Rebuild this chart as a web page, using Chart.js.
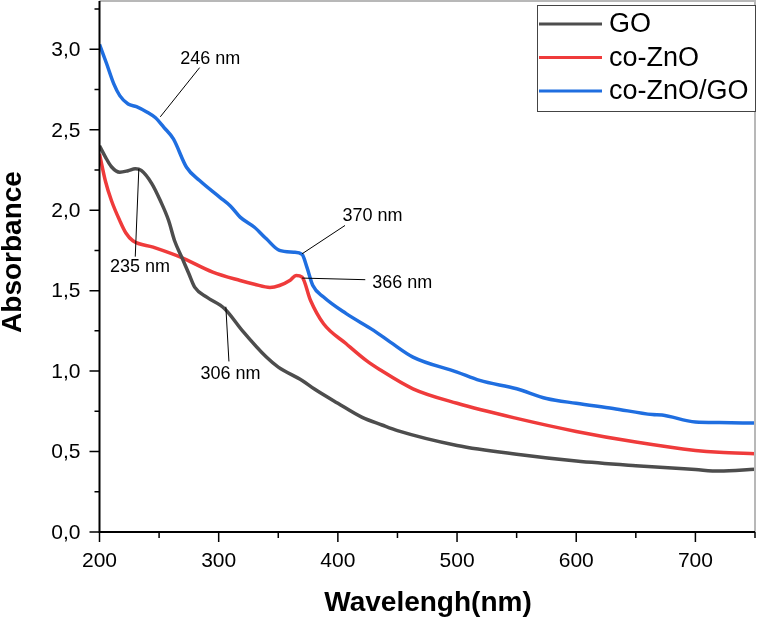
<!DOCTYPE html>
<html>
<head>
<meta charset="utf-8">
<script src="https://cdn.jsdelivr.net/npm/chart.js@4.4.0/dist/chart.umd.min.js"></script>
<style>
  html, body { margin: 0; padding: 0; background: #fff; }
  #wrap { width: 757px; height: 617px; }
</style>
</head>
<body>
<div id="wrap"><canvas id="uvChart"></canvas></div>
<script>
const goWl = [200, 205, 210, 217, 224, 230, 235, 244, 251, 258, 263, 269, 275, 280, 290, 305, 320, 340, 350, 370, 380, 400, 420, 437, 450, 500, 550, 600, 650, 700, 720, 750];
const goAbs = [2.40, 2.33, 2.27, 2.236, 2.245, 2.257, 2.247, 2.164, 2.06, 1.936, 1.81, 1.708, 1.605, 1.52, 1.46, 1.388, 1.25, 1.087, 1.025, 0.942, 0.89, 0.80, 0.714, 0.665, 0.63, 0.538, 0.483, 0.441, 0.412, 0.388, 0.379, 0.39];

const znoWl = [200, 205, 210, 217, 222, 228, 245, 268, 295, 318, 330, 343, 351, 360, 365, 370, 377, 388, 407, 424, 435, 463, 500, 550, 600, 650, 700, 720, 750];
const znoAbs = [2.35, 2.18, 2.06, 1.935, 1.86, 1.81, 1.77, 1.708, 1.615, 1.563, 1.54, 1.52, 1.532, 1.565, 1.594, 1.584, 1.44, 1.294, 1.17, 1.065, 1.01, 0.89, 0.80, 0.706, 0.625, 0.559, 0.507, 0.495, 0.487];

const compWl = [200, 206, 212, 217, 224, 231, 240, 247, 254, 262, 273, 284, 301, 310, 318, 330, 340, 351, 363, 370, 374, 379, 388, 407, 430, 444, 463, 500, 519, 550, 575, 600, 631, 664, 672, 700, 720, 750];
const compAbs = [3.03, 2.91, 2.785, 2.712, 2.66, 2.644, 2.609, 2.574, 2.515, 2.443, 2.267, 2.184, 2.08, 2.025, 1.957, 1.894, 1.822, 1.75, 1.739, 1.725, 1.646, 1.532, 1.46, 1.357, 1.253, 1.18, 1.087, 0.994, 0.942, 0.89, 0.83, 0.80, 0.768, 0.73, 0.727, 0.683, 0.68, 0.677];

const xTicks = [200, 250, 300, 350, 400, 450, 500, 550, 600, 650, 700, 750];
const xLabels = [200, 300, 400, 500, 600, 700];
const yTicks = [0, 0.25, 0.5, 0.75, 1.0, 1.25, 1.5, 1.75, 2.0, 2.25, 2.5, 2.75, 3.0, 3.25];
const yLabels = [0, 0.5, 1.0, 1.5, 2.0, 2.5, 3.0];

// Anotações: texto, ponta na curva, início da linha, centro do texto (nm, absorbância)
const notes = [
    { text: '246 nm', at: [251, 2.58], anchor: [284, 2.886], label: [293, 2.942] },
    { text: '235 nm', at: [233, 2.257], anchor: [230, 1.711], label: [234, 1.649] },
    { text: '370 nm', at: [370, 1.729], anchor: [406, 1.905], label: [429, 1.966] },
    { text: '366 nm', at: [370, 1.578], anchor: [423, 1.568], label: [454, 1.545] },
    { text: '306 nm', at: [306, 1.40], anchor: [308.6, 1.06], label: [310, 0.98] }
];

const FONT = '"Liberation Sans", Arial, sans-serif';

function toXY(xs, ys) {
    return xs.map((x, i) => ({ x: x, y: ys[i] }));
}

const decor = {
    id: 'decor',
    afterDraw(chart) {
        const ctx = chart.ctx;
        const xs = chart.scales.x;
        const ys = chart.scales.y;
        const area = chart.chartArea;
        ctx.save();

        // moldura cinza (topo e direita)
        ctx.strokeStyle = '#b8b8b8';
        ctx.lineWidth = 2;
        ctx.beginPath();
        ctx.moveTo(area.left, area.top);
        ctx.lineTo(area.right, area.top);
        ctx.lineTo(area.right, area.bottom);
        ctx.stroke();

        // eixos
        ctx.strokeStyle = '#000';
        ctx.lineWidth = 2;
        ctx.beginPath();
        ctx.moveTo(area.left, area.top);
        ctx.lineTo(area.left, area.bottom);
        ctx.lineTo(area.right, area.bottom);
        ctx.stroke();

        // marcas dos eixos
        ctx.lineWidth = 1.5;
        ctx.beginPath();
        xTicks.forEach(v => {
            const px = xs.getPixelForValue(v);
            const len = xLabels.includes(v) ? 10 : 6;
            ctx.moveTo(px, area.bottom);
            ctx.lineTo(px, area.bottom + len);
        });
        yTicks.forEach(v => {
            const py = ys.getPixelForValue(v);
            const len = yLabels.includes(v) ? 10 : 5;
            ctx.moveTo(area.left, py);
            ctx.lineTo(area.left - len, py);
        });
        ctx.stroke();

        // rótulos
        ctx.fillStyle = '#000';
        ctx.font = '21px ' + FONT;
        ctx.textAlign = 'center';
        ctx.textBaseline = 'middle';
        xLabels.forEach(v => ctx.fillText(String(v), xs.getPixelForValue(v), area.bottom + 29));
        ctx.textAlign = 'right';
        yLabels.forEach(v => ctx.fillText(v.toFixed(1).replace('.', ','), area.left - 19, ys.getPixelForValue(v) + 1));

        // títulos dos eixos
        ctx.font = 'bold 28px ' + FONT;
        ctx.textAlign = 'center';
        ctx.fillText('Wavelengh(nm)', 428, 603);
        ctx.save();
        ctx.translate(13, 252);
        ctx.rotate(-Math.PI / 2);
        ctx.fillText('Absorbance', 0, 0);
        ctx.restore();

        // anotações
        ctx.font = '18px ' + FONT;
        ctx.lineWidth = 1;
        notes.forEach(n => {
            ctx.beginPath();
            ctx.moveTo(xs.getPixelForValue(n.anchor[0]), ys.getPixelForValue(n.anchor[1]));
            ctx.lineTo(xs.getPixelForValue(n.at[0]), ys.getPixelForValue(n.at[1]));
            ctx.stroke();
            ctx.fillText(n.text, xs.getPixelForValue(n.label[0]), ys.getPixelForValue(n.label[1]));
        });

        // legenda
        const lx = 537, ly = 5, lw = 218, lh = 106;
        ctx.fillStyle = '#fff';
        ctx.fillRect(lx, ly, lw, lh);
        ctx.strokeStyle = '#444';
        ctx.lineWidth = 1;
        ctx.strokeRect(lx + 0.5, ly + 0.5, lw, lh);
        ctx.font = '27px ' + FONT;
        ctx.textAlign = 'left';
        chart.data.datasets.forEach((ds, i) => {
            const y = 24 + i * 33.5;
            ctx.strokeStyle = ds.borderColor;
            ctx.lineWidth = 3;
            ctx.beginPath();
            ctx.moveTo(539, y);
            ctx.lineTo(602, y);
            ctx.stroke();
            ctx.fillStyle = '#000';
            ctx.fillText(ds.label, 609, y + 1);
        });

        ctx.restore();
    }
};

new Chart(document.getElementById('uvChart'), {
    type: 'line',
    data: {
        datasets: [
            { label: 'GO', data: toXY(goWl, goAbs), borderColor: '#4d4d4d' },
            { label: 'co-ZnO', data: toXY(znoWl, znoAbs), borderColor: '#ef3b3b' },
            { label: 'co-ZnO/GO', data: toXY(compWl, compAbs), borderColor: '#1f6ee0' }
        ]
    },
    options: {
        responsive: true,
        maintainAspectRatio: false,
        animation: false,
        layout: { padding: { top: 1, right: 2, left: 0, bottom: 0 } },
        elements: {
            line: { borderWidth: 3.5, cubicInterpolationMode: 'monotone' },
            point: { radius: 0 }
        },
        plugins: {
            legend: { display: false },
            tooltip: { enabled: false }
        },
        scales: {
            x: {
                type: 'linear',
                min: 200,
                max: 750,
                grid: { display: false },
                border: { display: false },
                ticks: { display: false },
                afterFit: (s) => { s.height = 85; }
            },
            y: {
                min: 0,
                max: 3.3,
                grid: { display: false },
                border: { display: false },
                ticks: { display: false },
                afterFit: (s) => { s.width = 99.5; }
            }
        }
    },
    plugins: [decor]
});
</script>
</body>
</html>
